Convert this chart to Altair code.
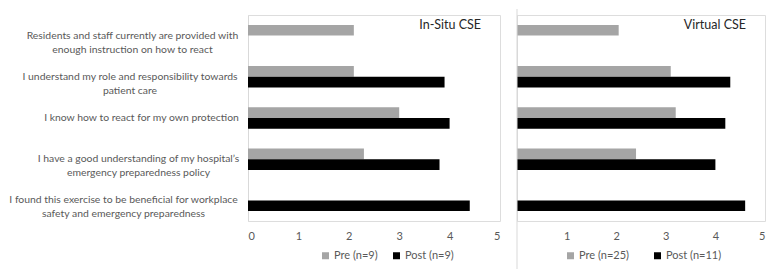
import altair as alt
import pandas as pd

questions = [
    "Residents and staff currently are provided with|enough instruction on how to react",
    "I understand my role and responsibility towards|patient care",
    "I know how to react for my own protection",
    "I have a good understanding of my hospital\u2019s|emergency preparedness policy",
    "I found this exercise to be beneficial for workplace|safety and emergency preparedness",
]
insitu_pre = [2.1, 2.1, 3.0, 2.3, None]
insitu_post = [None, 3.9, 4.0, 3.8, 4.4]
virtual_pre = [2.05, 3.1, 3.2, 2.4, None]
virtual_post = [None, 4.3, 4.2, 4.0, 4.6]
insitu_series = ["Pre (n=9)", "Post (n=9)"]
virtual_series = ["Pre (n=25)", "Post (n=11)"]
panel_titles = ["In-Situ CSE", "Virtual CSE"]
x_ticks_left = [0, 1, 2, 3, 4, 5]
x_ticks_right = [1, 2, 3, 4, 5]

PRE_COLOR = "#a5a5a5"
POST_COLOR = "#000000"
TXT = "#595959"
FONT = "Lato, sans-serif"

# label padding per category (style only) so that the lines of each label are centred
label_pad = [116, 118.5, 107, 110, 125]


def long_df(pre, post, series):
    rows = []
    for q, a, b in zip(questions, pre, post):
        if a is not None:
            rows.append({"question": q, "series": series[0], "value": a})
        if b is not None:
            rows.append({"question": q, "series": series[1], "value": b})
    return pd.DataFrame(rows)


def panel(df, series, title, ticks, left, width, legend_x, col_pad):
    if left:
        pad_cond = {
            "condition": [
                {"test": "datum.value == " + repr(q), "value": p}
                for q, p in zip(questions, label_pad)
            ],
            "value": 10,
        }
        yaxis = alt.Axis(
            title=None, ticks=False, domain=True, domainColor="#d9d9d9",
            labelExpr="split(datum.label, '|')", labelLimit=400,
            labelAlign="center", labelPadding=pad_cond,
            labelFontSize=10.4, labelColor=TXT, labelLineHeight=14,
            labelFont=FONT,
        )
    else:
        yaxis = alt.Axis(title=None, ticks=False, domain=True,
                         domainColor="#d9d9d9", labels=False)
    bars = alt.Chart(df).mark_bar().encode(
        x=alt.X("value:Q", title=None,
                scale=alt.Scale(domain=[0, 5], nice=False),
                axis=alt.Axis(values=ticks, grid=False, ticks=False, domain=False,
                              labelPadding=9, labelFontSize=11, labelColor=TXT,
                              labelFont=FONT, format="d")),
        y=alt.Y("question:N", sort=questions, title=None,
                scale=alt.Scale(paddingInner=0.48, paddingOuter=0.24),
                axis=yaxis),
        yOffset=alt.YOffset("series:N", sort=series,
                            scale=alt.Scale(domain=series, paddingInner=0, paddingOuter=0)),
        color=alt.Color("series:N",
                        scale=alt.Scale(domain=series, range=[PRE_COLOR, POST_COLOR]),
                        legend=alt.Legend(title=None, orient="none", direction="horizontal",
                                          legendX=legend_x, legendY=235,
                                          symbolType="square", symbolSize=49,
                                          symbolStrokeWidth=0, labelFontSize=11,
                                          labelColor=TXT, labelFont=FONT,
                                          columnPadding=col_pad, labelOffset=3)),
    )
    ttl = alt.Chart(pd.DataFrame({"t": [title]})).mark_text(
        align="right", baseline="alphabetic", fontSize=12.5, color="#262626", font=FONT
    ).encode(text="t:N", x=alt.value(width - 19), y=alt.value(14))
    layers = [bars, ttl]
    if not left:
        sep = alt.Chart(pd.DataFrame({"k": [0]})).mark_rule(color="#d9d9d9").encode(
            x=alt.value(0), y=alt.value(-6), y2=alt.value(254))
        layers.append(sep)
    return alt.layer(*layers).properties(width=width, height=206)


left = panel(long_df(insitu_pre, insitu_post, insitu_series), insitu_series,
             panel_titles[0], x_ticks_left, True, 252, 72, 13)
right = panel(long_df(virtual_pre, virtual_post, virtual_series), virtual_series,
              panel_titles[1], x_ticks_right, False, 248, 48, 23)

chart = alt.hconcat(left, right, spacing=17, bounds="flush").resolve_scale(
    color="independent", y="independent", x="independent", yOffset="independent"
).properties(padding=0).configure_view(stroke=None).configure(font=FONT)

chart.save("out.html", embed_options={"renderer": "svg", "actions": False})
